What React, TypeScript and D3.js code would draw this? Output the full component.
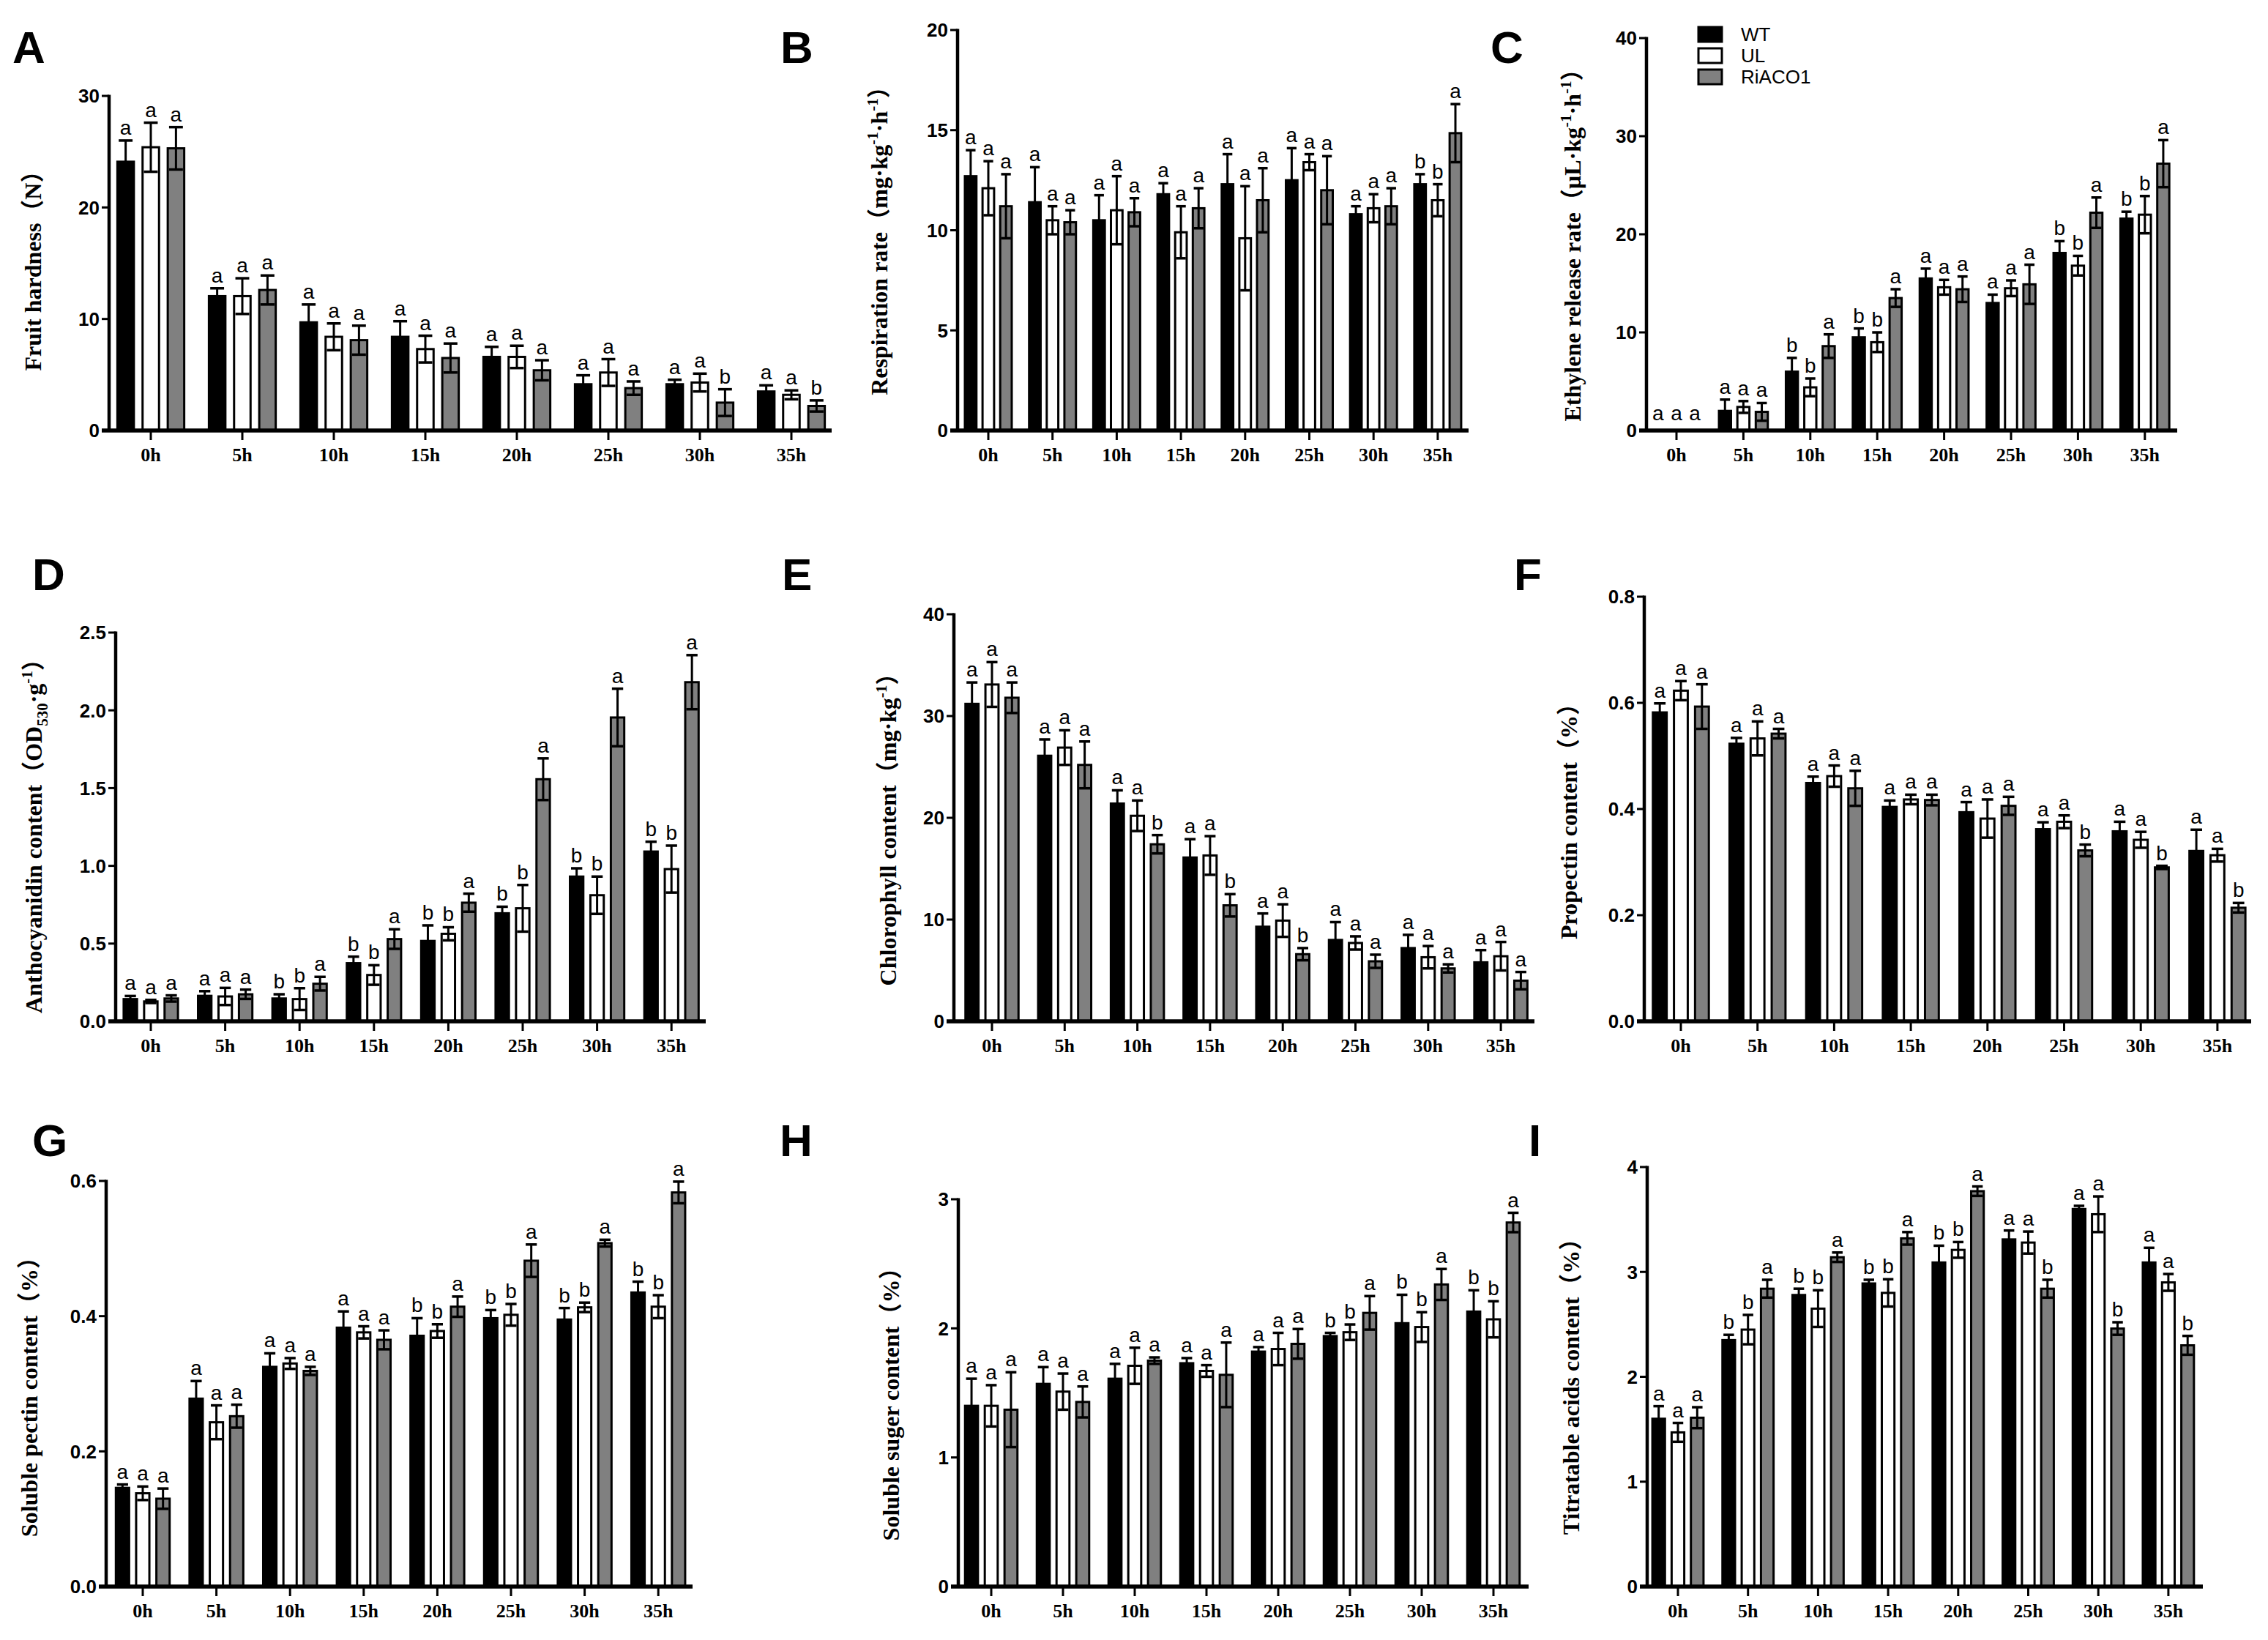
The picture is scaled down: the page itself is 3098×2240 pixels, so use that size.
import React from 'react';
import * as d3 from 'd3';

// Shared categories
const timePoints = ['0h', '5h', '10h', '15h', '20h', '25h', '30h', '35h'];
const seriesNames = ['WT', 'UL', 'RiACO1'];
const seriesFill = ['#000000', '#ffffff', '#808080'];

// A - fruit hardness (N)
const hardnessMean = [
  [24.1, 12.05, 9.7, 8.4, 6.6, 4.15, 4.15, 3.5],
  [25.4, 12.05, 8.4, 7.3, 6.6, 5.2, 4.3, 3.2],
  [25.3, 12.6, 8.1, 6.5, 5.4, 3.8, 2.5, 2.2],
];
const hardnessSd = [
  [1.9, 0.7, 1.6, 1.4, 0.9, 0.8, 0.4, 0.55],
  [2.2, 1.6, 1.2, 1.2, 1.0, 1.2, 0.8, 0.4],
  [1.9, 1.3, 1.3, 1.3, 0.9, 0.6, 1.2, 0.5],
];
const hardnessSig = ['aaa', 'aaa', 'aaa', 'aaa', 'aaa', 'aaa', 'aab', 'aab'];

// B - respiration rate
const respirationMean = [
  [12.7, 11.4, 10.5, 11.8, 12.3, 12.5, 10.8, 12.3],
  [12.1, 10.5, 11.0, 9.9, 9.6, 13.4, 11.1, 11.5],
  [11.2, 10.4, 10.9, 11.1, 11.5, 12.0, 11.2, 14.85],
];
const respirationSd = [
  [1.3, 1.75, 1.25, 0.55, 1.5, 1.6, 0.4, 0.5],
  [1.35, 0.7, 1.7, 1.3, 2.6, 0.4, 0.7, 0.8],
  [1.6, 0.6, 0.7, 1.0, 1.6, 1.7, 0.9, 1.45],
];
const respirationSig = ['aaa', 'aaa', 'aaa', 'aaa', 'aaa', 'aaa', 'aaa', 'bba'];

// C - ethylene release rate
const ethyleneMean = [
  [0, 2.0, 6.0, 9.5, 15.5, 13.0, 18.1, 21.6],
  [0, 2.4, 4.4, 9.0, 14.6, 14.5, 16.8, 22.0],
  [0, 1.9, 8.6, 13.5, 14.4, 14.9, 22.2, 27.2],
];
const ethyleneSd = [
  [0, 1.15, 1.4, 0.9, 1.0, 0.85, 1.2, 0.7],
  [0, 0.6, 0.9, 1.0, 0.75, 0.8, 1.0, 1.9],
  [0, 0.9, 1.2, 0.9, 1.3, 2.0, 1.55, 2.4],
];
const ethyleneSig = ['aaa', 'aaa', 'bba', 'bba', 'aaa', 'aaa', 'bba', 'bba'];

// D - anthocyanidin content
const anthoMean = [
  [0.143, 0.164, 0.147, 0.374, 0.517, 0.695, 0.931, 1.092],
  [0.128, 0.16, 0.143, 0.298, 0.563, 0.727, 0.811, 0.979],
  [0.147, 0.174, 0.242, 0.529, 0.763, 1.557, 1.954, 2.181],
];
const anthoSd = [
  [0.02, 0.03, 0.027, 0.042, 0.1, 0.042, 0.053, 0.063],
  [0.01, 0.055, 0.07, 0.063, 0.042, 0.15, 0.12, 0.151],
  [0.02, 0.03, 0.044, 0.063, 0.058, 0.134, 0.185, 0.174],
];
const anthoSig = ['aaa', 'aaa', 'bba', 'bba', 'bba', 'bba', 'bba', 'bba'];

// E - chlorophyll content
const chloroMean = [
  [31.2, 26.1, 21.4, 16.1, 9.3, 8.0, 7.2, 5.8],
  [33.1, 26.9, 20.2, 16.3, 9.9, 7.7, 6.3, 6.4],
  [31.8, 25.2, 17.4, 11.4, 6.6, 5.9, 5.2, 4.0],
];
const chloroSd = [
  [2.1, 1.6, 1.3, 1.8, 1.3, 1.75, 1.3, 1.2],
  [2.2, 1.7, 1.5, 1.9, 1.6, 0.65, 1.1, 1.4],
  [1.5, 2.3, 0.9, 1.1, 0.6, 0.65, 0.4, 0.85],
];
const chloroSig = ['aaa', 'aaa', 'aab', 'aab', 'aab', 'aaa', 'aaa', 'aaa'];

// F - propectin content
const propectinMean = [
  [0.582, 0.523, 0.449, 0.404, 0.394, 0.362, 0.358, 0.321],
  [0.623, 0.533, 0.462, 0.418, 0.382, 0.376, 0.342, 0.313],
  [0.593, 0.542, 0.439, 0.417, 0.406, 0.322, 0.29, 0.214],
];
const propectinSd = [
  [0.017, 0.011, 0.012, 0.012, 0.019, 0.013, 0.018, 0.04],
  [0.018, 0.032, 0.02, 0.009, 0.036, 0.012, 0.015, 0.012],
  [0.042, 0.009, 0.033, 0.01, 0.017, 0.011, 0.003, 0.009],
];
const propectinSig = ['aaa', 'aaa', 'aaa', 'aaa', 'aaa', 'aab', 'aab', 'aab'];

// G - soluble pectin content
const pectinMean = [
  [0.146, 0.278, 0.325, 0.383, 0.371, 0.397, 0.395, 0.435],
  [0.138, 0.243, 0.33, 0.376, 0.378, 0.402, 0.413, 0.414],
  [0.13, 0.252, 0.319, 0.365, 0.414, 0.482, 0.508, 0.583],
];
const pectinSd = [
  [0.005, 0.026, 0.02, 0.024, 0.026, 0.012, 0.017, 0.016],
  [0.01, 0.025, 0.008, 0.009, 0.01, 0.016, 0.007, 0.017],
  [0.015, 0.017, 0.006, 0.014, 0.015, 0.024, 0.005, 0.016],
];
const pectinSig = ['aaa', 'aaa', 'aaa', 'aaa', 'bba', 'bba', 'bba', 'bba'];

// H - soluble sugar content
const sugarMean = [
  [1.4, 1.57, 1.61, 1.73, 1.82, 1.94, 2.04, 2.13],
  [1.4, 1.51, 1.71, 1.67, 1.84, 1.97, 2.01, 2.07],
  [1.37, 1.43, 1.75, 1.64, 1.88, 2.12, 2.34, 2.82],
];
const sugarSd = [
  [0.21, 0.13, 0.115, 0.04, 0.035, 0.025, 0.22, 0.165],
  [0.16, 0.14, 0.14, 0.045, 0.125, 0.06, 0.115, 0.14],
  [0.29, 0.12, 0.025, 0.25, 0.115, 0.13, 0.12, 0.075],
];
const sugarSig = ['aaa', 'aaa', 'aaa', 'aaa', 'aaa', 'bba', 'bba', 'bba'];

// I - titratable acids content
const acidMean = [
  [1.6, 2.35, 2.78, 2.89, 3.09, 3.31, 3.6, 3.09],
  [1.47, 2.45, 2.65, 2.8, 3.21, 3.28, 3.55, 2.9],
  [1.61, 2.84, 3.14, 3.32, 3.77, 2.84, 2.46, 2.3],
];
const acidSd = [
  [0.12, 0.05, 0.06, 0.035, 0.16, 0.085, 0.03, 0.14],
  [0.09, 0.14, 0.175, 0.13, 0.075, 0.105, 0.17, 0.08],
  [0.1, 0.085, 0.045, 0.06, 0.045, 0.085, 0.06, 0.09],
];
const acidSig = ['aaa', 'bba', 'bba', 'bba', 'bba', 'aab', 'aab', 'aab'];

// Title pieces: plain, superscript or subscript
interface TitlePart {
  t: string;
  sup?: boolean;
  sub?: boolean;
}

interface PanelSpec {
  letter: string;
  title: TitlePart[];
  mean: number[][];
  sd: number[][];
  sig: string[];
  yMax: number;
  yTicks: number[];
  tickFmt: (v: number) => string;
  axisX: number;
  yTop: number;
  yZero: number;
  firstX: number;
  step: number;
  axisEnd: number;
  letterX: number;
  letterY: number;
  titleX: number;
  titleY: number;
  legend?: boolean;
}

const fmtInt = (v: number) => d3.format('d')(v);
const fmt1 = (v: number) => d3.format('.1f')(v);

const panels: PanelSpec[] = [
  {
    letter: 'A', title: [{ t: 'Fruit hardness（N）' }],
    mean: hardnessMean, sd: hardnessSd, sig: hardnessSig,
    yMax: 30, yTicks: [0, 10, 20, 30], tickFmt: fmtInt,
    axisX: 149, yTop: 131, yZero: 588, firstX: 206, step: 125, axisEnd: 1136,
    letterX: 17, letterY: 86, titleX: 56, titleY: 362,
  },
  {
    letter: 'B',
    title: [{ t: 'Respiration rate（mg·kg' }, { t: '-1', sup: true }, { t: '·h' }, { t: '-1', sup: true }, { t: '）' }],
    mean: respirationMean, sd: respirationSd, sig: respirationSig,
    yMax: 20, yTicks: [0, 5, 10, 15, 20], tickFmt: fmtInt,
    axisX: 1308, yTop: 41, yZero: 588, firstX: 1350, step: 87.7, axisEnd: 2006,
    letterX: 1066, letterY: 86, titleX: 1212, titleY: 321,
  },
  {
    letter: 'C',
    title: [{ t: 'Ethylene release rate（μL·kg' }, { t: '-1', sup: true }, { t: '·h' }, { t: '-1', sup: true }, { t: '）' }],
    mean: ethyleneMean, sd: ethyleneSd, sig: ethyleneSig,
    yMax: 40, yTicks: [0, 10, 20, 30, 40], tickFmt: fmtInt,
    axisX: 2249, yTop: 52, yZero: 588, firstX: 2290, step: 91.4, axisEnd: 2974,
    letterX: 2036, letterY: 86, titleX: 2159, titleY: 327, legend: true,
  },
  {
    letter: 'D',
    title: [{ t: 'Anthocyanidin content（OD' }, { t: '530', sub: true }, { t: '·g' }, { t: '-1', sup: true }, { t: '）' }],
    mean: anthoMean, sd: anthoSd, sig: anthoSig,
    yMax: 2.5, yTicks: [0, 0.5, 1, 1.5, 2, 2.5], tickFmt: fmt1,
    axisX: 158, yTop: 864, yZero: 1395, firstX: 206, step: 101.6, axisEnd: 964,
    letterX: 44, letterY: 806, titleX: 57, titleY: 1134,
  },
  {
    letter: 'E',
    title: [{ t: 'Chlorophyll content（mg·kg' }, { t: '-1', sup: true }, { t: '）' }],
    mean: chloroMean, sd: chloroSd, sig: chloroSig,
    yMax: 40, yTicks: [0, 10, 20, 30, 40], tickFmt: fmtInt,
    axisX: 1303, yTop: 839, yZero: 1395, firstX: 1355, step: 99.3, axisEnd: 2096,
    letterX: 1068, letterY: 806, titleX: 1224, titleY: 1125,
  },
  {
    letter: 'F', title: [{ t: 'Propectin content（%）' }],
    mean: propectinMean, sd: propectinSd, sig: propectinSig,
    yMax: 0.8, yTicks: [0, 0.2, 0.4, 0.6, 0.8], tickFmt: fmt1,
    axisX: 2246, yTop: 815, yZero: 1395, firstX: 2296, step: 104.7, axisEnd: 3075,
    letterX: 2068, letterY: 806, titleX: 2154, titleY: 1114,
  },
  {
    letter: 'G', title: [{ t: 'Soluble pectin content（%）' }],
    mean: pectinMean, sd: pectinSd, sig: pectinSig,
    yMax: 0.6, yTicks: [0, 0.2, 0.4, 0.6], tickFmt: fmt1,
    axisX: 145, yTop: 1613, yZero: 2167, firstX: 195, step: 100.6, axisEnd: 946,
    letterX: 44, letterY: 1579, titleX: 51, titleY: 1900,
  },
  {
    letter: 'H', title: [{ t: 'Soluble suger content（%）' }],
    mean: sugarMean, sd: sugarSd, sig: sugarSig,
    yMax: 3, yTicks: [0, 1, 2, 3], tickFmt: fmtInt,
    axisX: 1309, yTop: 1638, yZero: 2167, firstX: 1354, step: 98, axisEnd: 2088,
    letterX: 1065, letterY: 1579, titleX: 1228, titleY: 1910,
  },
  {
    letter: 'I', title: [{ t: 'Titratable acids content（%）' }],
    mean: acidMean, sd: acidSd, sig: acidSig,
    yMax: 4, yTicks: [0, 1, 2, 3, 4], tickFmt: fmtInt,
    axisX: 2250, yTop: 1594, yZero: 2167, firstX: 2292, step: 95.7, axisEnd: 3009,
    letterX: 2088, letterY: 1579, titleX: 2157, titleY: 1886,
  },
];

const SANS = "'Liberation Sans', Arial, Helvetica, sans-serif";
const NARROW = "'Liberation Sans Narrow', 'Arial Narrow', 'Liberation Sans', Arial, sans-serif";
const SERIF = "'Liberation Serif', 'Times New Roman', Times, 'Noto Sans CJK SC', serif";

const TitleText: React.FC<{ parts: TitlePart[]; x: number; y: number }> = ({ parts, x, y }) => {
  let shift = 0;
  return (
    <text
      transform={`translate(${x},${y}) rotate(-90)`}
      textAnchor="middle"
      fontFamily={SERIF}
      fontWeight="bold"
      fontSize={32}
      fill="#000"
    >
      {parts.map((p, i) => {
        const target = p.sup ? -13 : p.sub ? 8 : 0;
        const dy = target - shift;
        shift = target;
        return (
          <tspan key={i} dy={dy} fontSize={p.sup || p.sub ? 21 : 32}>
            {p.t}
          </tspan>
        );
      })}
    </text>
  );
};

const Panel: React.FC<{ spec: PanelSpec }> = ({ spec }) => {
  const yScale = d3.scaleLinear().domain([0, spec.yMax]).range([spec.yZero, spec.yTop]);
  const xScale = d3
    .scalePoint<string>()
    .domain(timePoints)
    .range([spec.firstX, spec.firstX + spec.step * (timePoints.length - 1)]);
  const seriesOffset = d3
    .scalePoint<string>()
    .domain(seriesNames)
    .range([-0.275 * spec.step, 0.275 * spec.step]);
  const barW = 0.18 * spec.step;
  const capW = 0.42 * barW;
  const tickLen = 10;

  return (
    <g>
      {/* panel letter */}
      <text x={spec.letterX} y={spec.letterY} fontFamily={SANS} fontWeight="bold" fontSize={62} fill="#000">
        {spec.letter}
      </text>

      <TitleText parts={spec.title} x={spec.titleX} y={spec.titleY} />

      {/* bars, error bars and letters */}
      {timePoints.map((tp, gi) =>
        seriesNames.map((sn, si) => {
          const m = spec.mean[si][gi];
          const s = spec.sd[si][gi];
          const cx = (xScale(tp) as number) + (seriesOffset(sn) as number);
          const yTopVal = yScale(m + s);
          const yLow = yScale(Math.max(0, m - s));
          const labelY = Math.min(yTopVal - 8, spec.yZero - 14);
          return (
            <g key={`${tp}-${sn}`}>
              {m > 0 && (
                <>
                  <rect
                    x={cx - barW / 2}
                    y={yScale(m)}
                    width={barW}
                    height={spec.yZero - yScale(m)}
                    fill={seriesFill[si]}
                    stroke="#000"
                    strokeWidth={3}
                  />
                  <line x1={cx} x2={cx} y1={yLow} y2={yTopVal} stroke="#000" strokeWidth={3} />
                  <line x1={cx - capW} x2={cx + capW} y1={yTopVal} y2={yTopVal} stroke="#000" strokeWidth={3.5} />
                  <line x1={cx - capW} x2={cx + capW} y1={yLow} y2={yLow} stroke="#000" strokeWidth={3.5} />
                </>
              )}
              <text
                x={cx}
                y={labelY}
                textAnchor="middle"
                fontFamily={NARROW}
                fontSize={28}
                fill="#000"
              >
                {spec.sig[gi][si]}
              </text>
            </g>
          );
        })
      )}

      {/* y axis */}
      <line
        x1={spec.axisX}
        x2={spec.axisX}
        y1={spec.yZero}
        y2={yScale(spec.yMax) - 1.5}
        stroke="#000"
        strokeWidth={4.5}
      />
      {spec.yTicks.map((v) => (
        <g key={`yt-${v}`} transform={`translate(0,${yScale(v)})`}>
          <line x1={spec.axisX - tickLen} x2={spec.axisX} stroke="#000" strokeWidth={3} />
          <text
            x={spec.axisX - tickLen - 3}
            dy="0.36em"
            textAnchor="end"
            fontFamily={NARROW}
            fontWeight="bold"
            fontSize={26}
            fill="#000"
          >
            {spec.tickFmt(v)}
          </text>
        </g>
      ))}

      {/* x axis */}
      <line
        x1={spec.axisX - tickLen}
        x2={spec.axisEnd}
        y1={spec.yZero}
        y2={spec.yZero}
        stroke="#000"
        strokeWidth={5.5}
      />
      {timePoints.map((tp) => (
        <g key={`xt-${tp}`} transform={`translate(${xScale(tp)},${spec.yZero})`}>
          <line y1={0} y2={13} stroke="#000" strokeWidth={3} />
          <text y={42} textAnchor="middle" fontFamily={SERIF} fontWeight="bold" fontSize={26} fill="#000">
            {tp}
          </text>
        </g>
      ))}

      {spec.legend && (
        <g>
          {seriesNames.map((sn, si) => {
            const ly = d3.scaleLinear().domain([0, 2]).range([47, 105])(si);
            return (
              <g key={`lg-${sn}`}>
                <rect x={2320} y={ly - 10} width={32} height={20} fill={seriesFill[si]} stroke="#000" strokeWidth={3} />
                <text x={2378} y={ly} dy="0.36em" fontFamily={NARROW} fontSize={26} fill="#000">
                  {sn}
                </text>
              </g>
            );
          })}
        </g>
      )}
    </g>
  );
};

const App: React.FC = () => (
  <svg
    width={3098}
    height={2240}
    viewBox="0 0 3098 2240"
    style={{ position: 'absolute', left: 0, top: 0, background: '#fff' }}
  >
    <rect x={0} y={0} width={3098} height={2240} fill="#fff" />
    {panels.map((p) => (
      <Panel key={p.letter} spec={p} />
    ))}
  </svg>
);

export default App;
